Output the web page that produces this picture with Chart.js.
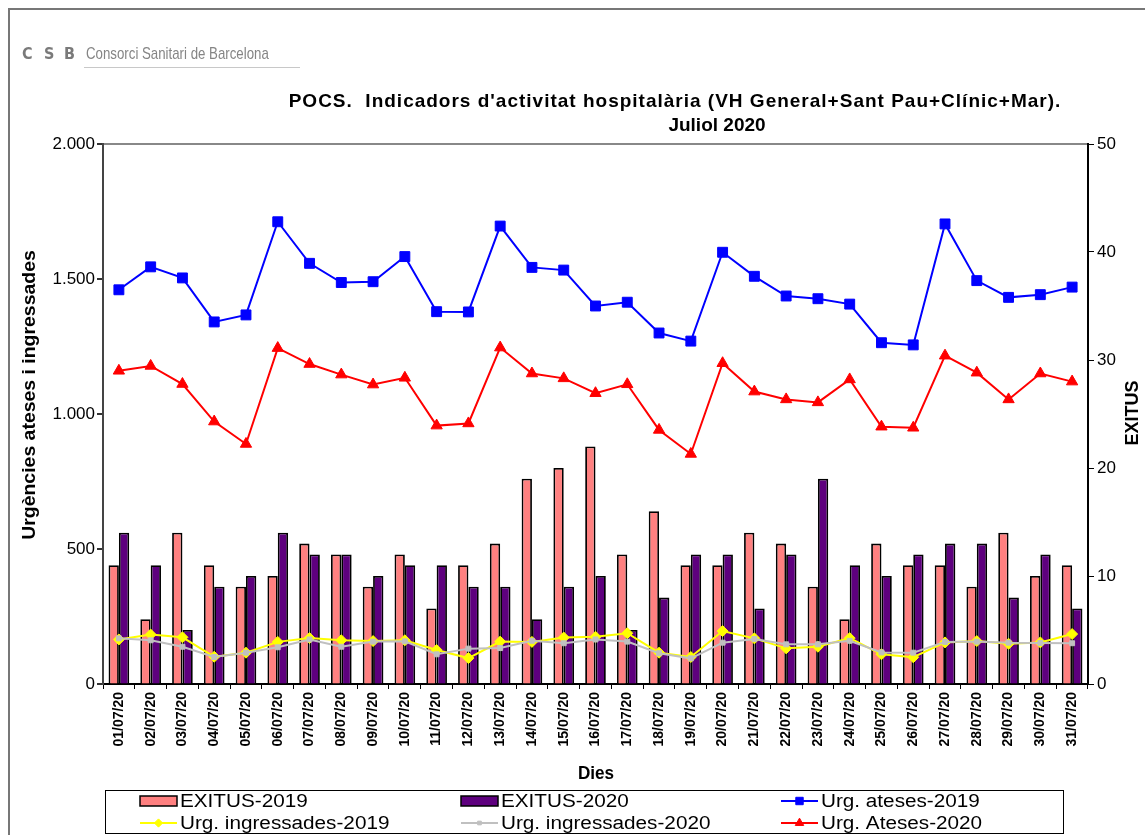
<!DOCTYPE html>
<html>
<head>
<meta charset="utf-8">
<script src="https://cdn.jsdelivr.net/npm/chart.js@4.4.0/dist/chart.umd.min.js"></script>
<style>
  html, body { margin: 0; padding: 0; background: #fff; }
  #wrap { width: 1145px; height: 835px; }
</style>
</head>
<body>
<div id="wrap"><canvas id="chart" width="1145" height="835"></canvas></div>
<script>
// Dies de juliol 2020
const days = ['01/07/20', '02/07/20', '03/07/20', '04/07/20', '05/07/20', '06/07/20', '07/07/20', '08/07/20',
  '09/07/20', '10/07/20', '11/07/20', '12/07/20', '13/07/20', '14/07/20', '15/07/20', '16/07/20',
  '17/07/20', '18/07/20', '19/07/20', '20/07/20', '21/07/20', '22/07/20', '23/07/20', '24/07/20',
  '25/07/20', '26/07/20', '27/07/20', '28/07/20', '29/07/20', '30/07/20', '31/07/20'];

// Exitus (eix dret)
const exitus2019 = [11, 6, 14, 11, 9, 10, 13, 12, 9, 12, 7, 11, 13, 19, 20, 22, 12, 16, 11, 11, 14, 13, 9, 6, 13, 11, 11, 9, 14, 10, 11];
const exitus2020 = [14, 11, 5, 9, 10, 14, 12, 12, 10, 11, 11, 9, 9, 6, 9, 10, 5, 8, 12, 12, 7, 12, 19, 11, 10, 12, 13, 13, 8, 12, 7];

// Urgencies (eix esquerre)
const ateses2019 = [1460, 1545, 1504, 1341, 1367, 1712, 1558, 1487, 1490, 1583, 1379, 1378, 1696, 1543, 1533, 1400,
  1414, 1300, 1270, 1599, 1510, 1437, 1427, 1407, 1264, 1256, 1704, 1494, 1432, 1442, 1470];
const ateses2020 = [1160, 1178, 1111, 972, 889, 1244, 1185, 1146, 1109, 1134, 957, 965, 1246, 1150, 1132, 1077,
  1110, 941, 852, 1188, 1083, 1054, 1043, 1128, 953, 949, 1216, 1153, 1054, 1150, 1120];
const ingres2019 = [165, 183, 173, 101, 116, 156, 170, 162, 159, 162, 126, 96, 157, 156, 172, 175,
  188, 116, 100, 196, 169, 132, 138, 170, 110, 99, 154, 159, 149, 154, 185];
const ingres2020 = [169, 162, 138, 100, 116, 136, 165, 138, 157, 158, 110, 131, 133, 160, 151, 165,
  157, 114, 95, 153, 167, 147, 147, 160, 117, 116, 156, 157, 153, 152, 151];

const leftTicks = [0, 500, 1000, 1500, 2000];
const rightTicks = [0, 10, 20, 30, 40, 50];

const FONT = "'Liberation Sans', Arial, sans-serif";

function thousands(v) {
  return String(v).replace(/\B(?=(\d{3})+(?!\d))/g, '.');
}

// text stretched along its own direction (the picture's fonts are wider than Arial)
function stretchText(ctx, text, x, y, sx, angle, align) {
  ctx.save();
  ctx.translate(x, y);
  if (angle) ctx.rotate(angle);
  ctx.scale(sx, 1);
  ctx.textAlign = align || 'center';
  ctx.fillText(text, 0, 0);
  ctx.restore();
}

// Decoration: frame, logo, title, axis titles, legend box
const decor = {
  id: 'decor',
  beforeDraw(chart) {
    const ctx = chart.ctx;
    ctx.save();
    ctx.fillStyle = '#fff';
    ctx.fillRect(0, 0, chart.width, chart.height);
    ctx.restore();
  },
  afterDraw(chart) {
    const ctx = chart.ctx;
    ctx.save();

    // outer frame (top + left)
    ctx.strokeStyle = '#777';
    ctx.lineWidth = 2;
    ctx.beginPath();
    ctx.moveTo(1145, 9);
    ctx.lineTo(9, 9);
    ctx.lineTo(9, 835);
    ctx.stroke();

    // logo
    ctx.textBaseline = 'middle';
    ctx.fillStyle = '#7a7a7a';
    ctx.font = "bold 16px 'DejaVu Sans', sans-serif";
    stretchText(ctx, 'C', 22, 55, 0.9, 0, 'left');
    stretchText(ctx, 'S', 44, 55, 0.9, 0, 'left');
    stretchText(ctx, 'B', 64, 55, 0.9, 0, 'left');
    ctx.fillStyle = '#858585';
    ctx.font = "17px 'Liberation Sans', sans-serif";
    stretchText(ctx, 'Consorci Sanitari de Barcelona', 86, 54, 0.78, 0, 'left');
    ctx.strokeStyle = '#c8c8c8';
    ctx.lineWidth = 1;
    ctx.beginPath();
    ctx.moveTo(84, 67.5);
    ctx.lineTo(300, 67.5);
    ctx.stroke();

    // title
    ctx.fillStyle = '#000';
    ctx.font = 'bold 19px ' + FONT;
    ctx.save();
    ctx.letterSpacing = '1px';
    stretchText(ctx, "POCS.  Indicadors d'activitat hospitalària (VH General+Sant Pau+Clínic+Mar).", 675, 102, 1.0);
    ctx.restore();
    stretchText(ctx, 'Juliol 2020', 717, 126, 1.0);

    // axis titles
    ctx.font = 'bold 18px ' + FONT;
    stretchText(ctx, 'Dies', 596, 774, 0.95);
    stretchText(ctx, 'Urgències ateses i ingressades', 30, 395, 1.08, -Math.PI / 2);
    stretchText(ctx, 'EXITUS', 1133, 413, 1.0, -Math.PI / 2);

    // legend
    ctx.strokeStyle = '#000';
    ctx.lineWidth = 1;
    ctx.strokeRect(105.5, 790.5, 958, 43);
    const colX = [140, 461, 781];
    const rowY = [801, 823];
    chart.data.datasets.forEach((ds, i) => {
      const x = colX[i % 3];
      const y = rowY[Math.floor(i / 3)];
      if (ds.type === 'bar') {
        ctx.fillStyle = ds.backgroundColor;
        ctx.fillRect(x, y - 5, 37, 10);
        ctx.lineWidth = 1.5;
        ctx.strokeStyle = '#000';
        ctx.strokeRect(x, y - 5, 37, 10);
      } else {
        ctx.strokeStyle = ds.borderColor;
        ctx.lineWidth = 2;
        ctx.beginPath();
        ctx.moveTo(x, y);
        ctx.lineTo(x + 37, y);
        ctx.stroke();
        ctx.fillStyle = ds.pointBackgroundColor;
        ctx.strokeStyle = ds.pointBorderColor;
        ctx.lineWidth = 1;
        Chart.helpers.drawPoint(ctx, {
          pointStyle: ds.pointStyle,
          radius: ds.pointRadius * 0.75,
          rotation: 0,
          borderWidth: 1
        }, x + 18.5, y);
      }
      ctx.fillStyle = '#000';
      ctx.font = '18px ' + FONT;
      stretchText(ctx, ds.label, x + 40, y + 1, 1.15, 0, 'left');
    });

    ctx.restore();
  }
};

function lineSet(label, data, color, style, radius, order) {
  return {
    type: 'line',
    label: label,
    data: data,
    yAxisID: 'y',
    borderColor: color,
    borderWidth: 2,
    pointStyle: style,
    pointRadius: radius,
    pointBackgroundColor: color,
    pointBorderColor: color,
    pointBorderWidth: 1,
    tension: 0,
    fill: false,
    order: order
  };
}

new Chart(document.getElementById('chart'), {
  data: {
    labels: days,
    datasets: [
      {
        type: 'bar', label: 'EXITUS-2019', data: exitus2019, yAxisID: 'y1',
        backgroundColor: '#FF8080', borderColor: '#000', borderWidth: 1.8,
        categoryPercentage: 0.65, barPercentage: 1, order: 5
      },
      {
        type: 'bar', label: 'EXITUS-2020', data: exitus2020, yAxisID: 'y1',
        backgroundColor: '#5E007E', borderColor: '#000', borderWidth: 1.8,
        categoryPercentage: 0.65, barPercentage: 1, order: 6
      },
      lineSet('Urg. ateses-2019', ateses2019, '#0000FF', 'rect', 7, 3),
      lineSet('Urg. ingressades-2019', ingres2019, '#FFFF00', 'rectRot', 5.5, 1),
      lineSet('Urg. ingressades-2020', ingres2020, '#C0C0C0', 'rect', 3.5, 0),
      lineSet('Urg. Ateses-2020', ateses2020, '#FF0000', 'triangle', 6.5, 2)
    ]
  },
  options: {
    responsive: false,
    animation: false,
    events: [],
    layout: { padding: { top: 144, left: 0, right: 0, bottom: 0 } },
    plugins: {
      legend: { display: false },
      title: { display: false },
      tooltip: { enabled: false }
    },
    scales: {
      x: {
        offset: true,
        grid: { drawOnChartArea: false, tickColor: '#000', tickLength: 5, offset: true },
        border: { color: '#000', width: 2 },
        ticks: {
          color: '#000', autoSkip: false, maxRotation: 90, minRotation: 90, padding: 3,
          font: { family: FONT, size: 14, weight: 'bold' }
        },
        afterFit: s => { s.height = 151; }
      },
      y: {
        position: 'left',
        min: 0, max: 2000,
        afterBuildTicks: s => { s.ticks = leftTicks.map(v => ({ value: v })); },
        grid: {
          color: c => (c.tick && c.tick.value === 2000 ? '#888' : 'rgba(0,0,0,0)'),
          lineWidth: 2,
          tickColor: '#333',
          tickLength: 6
        },
        border: { color: '#444', width: 2 },
        ticks: {
          color: '#000', padding: 2,
          font: { family: FONT, size: 17 },
          callback: v => thousands(v)
        },
        afterFit: s => { s.width = 103; }
      },
      y1: {
        position: 'right',
        min: 0, max: 50,
        afterBuildTicks: s => { s.ticks = rightTicks.map(v => ({ value: v })); },
        grid: { drawOnChartArea: false, tickColor: '#000', tickLength: 6 },
        border: { color: '#000', width: 2 },
        ticks: {
          color: '#000', padding: 3,
          font: { family: FONT, size: 17 }
        },
        afterFit: s => { s.width = 57; }
      }
    }
  },
  plugins: [decor]
});
</script>
</body>
</html>
